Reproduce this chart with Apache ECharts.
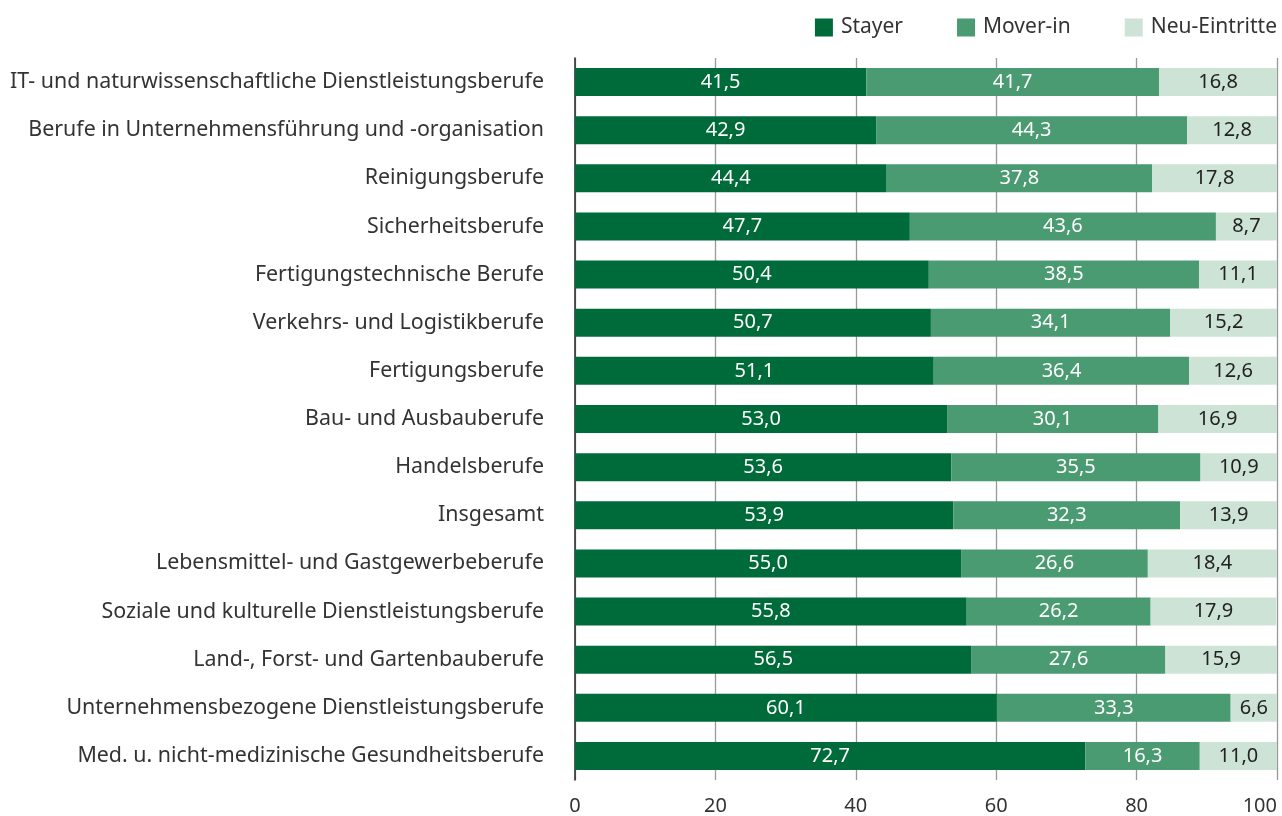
<!DOCTYPE html>
<html><head><meta charset="utf-8">
<script src="https://cdn.jsdelivr.net/npm/echarts@6/dist/echarts.min.js"></script>
<style>html,body{margin:0;padding:0;background:#fff}#c{width:1282px;height:816px}</style>
</head><body><div id="c"></div>
<script>
const categories = [
  "IT- und naturwissenschaftliche Dienstleistungsberufe",
  "Berufe in Unternehmensführung und -organisation",
  "Reinigungsberufe",
  "Sicherheitsberufe",
  "Fertigungstechnische Berufe",
  "Verkehrs- und Logistikberufe",
  "Fertigungsberufe",
  "Bau- und Ausbauberufe",
  "Handelsberufe",
  "Insgesamt",
  "Lebensmittel- und Gastgewerbeberufe",
  "Soziale und kulturelle Dienstleistungsberufe",
  "Land-, Forst- und Gartenbauberufe",
  "Unternehmensbezogene Dienstleistungsberufe",
  "Med. u. nicht-medizinische Gesundheitsberufe"
];
const stayer = [41.5,42.9,44.4,47.7,50.4,50.7,51.1,53.0,53.6,53.9,55.0,55.8,56.5,60.1,72.7];
const moverIn = [41.7,44.3,37.8,43.6,38.5,34.1,36.4,30.1,35.5,32.3,26.6,26.2,27.6,33.3,16.3];
const neuEintritte = [16.8,12.8,17.8,8.7,11.1,15.2,12.6,16.9,10.9,13.9,18.4,17.9,15.9,6.6,11.0];
const seriesNames = ["Stayer","Mover-in","Neu-Eintritte"];
const colors = ["#006b3a","#4a9a72","#cde3d6"];
const labelColors = ["#ffffff","#ffffff","#222222"];
const FONT = "Noto Sans";
const fmt = v => v.toFixed(1).replace('.', ',');
const chart = echarts.init(document.getElementById('c'), null, {renderer:'canvas'});
const mk = (name, data, i) => ({
  name, type:'bar', stack:'a', data, barWidth:28,
  itemStyle:{color:colors[i]},
  label:{show:true, position:'inside', color:labelColors[i], fontSize:20, fontFamily:FONT,
    formatter:p=>fmt(p.value)},
  emphasis:{disabled:true}
});
chart.setOption({
  animation:false,
  textStyle:{fontFamily:FONT},
  legend:{
    right:0, top:12, itemWidth:18, itemHeight:18, itemGap:54,
    icon:'rect',
    textStyle:{fontSize:21, color:'#333', fontFamily:FONT, padding:[0,0,0,3]},
    data:seriesNames
  },
  grid:{left:575, right:5, top:58, bottom:36, containLabel:false, outerBoundsMode:'none'},
  xAxis:{
    type:'value', min:0, max:100, interval:20,
    axisLine:{show:false}, axisTick:{show:false},
    splitLine:{show:true, lineStyle:{color:'#999', width:1.3}},
    axisLabel:{fontSize:20, color:'#333', fontFamily:FONT, margin:16, alignMaxLabel:'right'}
  },
  yAxis:{
    type:'category', data:categories, inverse:true,
    axisLine:{show:true, lineStyle:{color:'#333', width:1.6}},
    axisTick:{show:false},
    axisLabel:{fontSize:21.4, color:'#333', fontFamily:FONT, margin:31}
  },
  series:[mk(seriesNames[0], stayer, 0), mk(seriesNames[1], moverIn, 1), mk(seriesNames[2], neuEintritte, 2)]
});
</script></body></html>
